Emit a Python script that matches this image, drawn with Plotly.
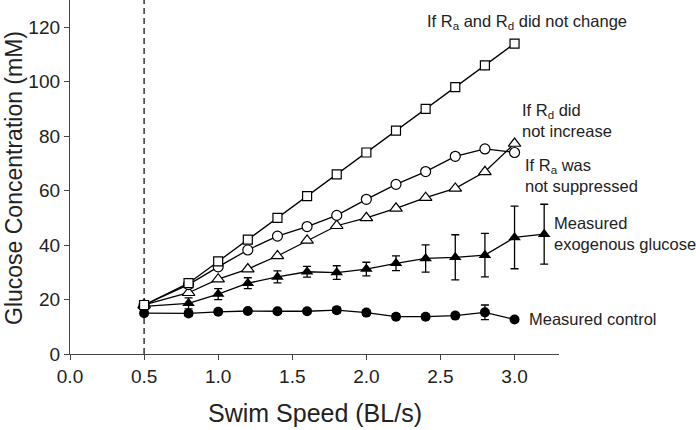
import plotly.graph_objects as go

speed = [0.5, 0.8, 1.0, 1.2, 1.4, 1.6, 1.8, 2.0, 2.2, 2.4, 2.6, 2.8, 3.0]
speed_exo = [0.5, 0.8, 1.0, 1.2, 1.4, 1.6, 1.8, 2.0, 2.2, 2.4, 2.6, 2.8, 3.0, 3.2]

no_change = [18, 26, 34, 42, 50, 58, 66, 74, 82, 90, 98, 106, 114]
rd_not_inc = [18, 25.5, 32, 38.2, 43.3, 46.8, 50.9, 56.8, 62.3, 67, 72.6, 75.3, 74]
ra_not_sup = [18, 22.5, 27.5, 31.2, 36, 41.7, 47.1, 50, 53.5, 57.4, 60.8, 66.9, 77.3]
exo = [17.5, 18.6, 22, 26, 28.3, 30.2, 29.9, 31.2, 33.3, 35.1, 35.5, 36.3, 42.8, 44]
exo_err = [1.2, 2, 2, 2, 2.2, 2, 2.5, 2.5, 2.7, 5, 8.3, 8, 11.5, 11]
control = [15, 14.9, 15.5, 15.8, 15.7, 15.7, 16.1, 15.2, 13.7, 13.7, 14.1, 15.3, 12.7]
control_err = [0.8, 1, 0.8, 0.8, 0.8, 0.8, 1, 1, 1, 0.8, 0.8, 2.7, 0]

x_ticks = [0.0, 0.5, 1.0, 1.5, 2.0, 2.5, 3.0]
x_tick_labels = ["0.0", "0.5", "1.0", "1.5", "2.0", "2.5", "3.0"]
y_ticks = [0, 20, 40, 60, 80, 100, 120]

FONT = "Liberation Sans, Arial, sans-serif"
INK = "#222222"
AX = "#444444"

# plot area in pixels
L, R, T, B = 70, 559, 0, 354
W, H = R - L, B - T

fig = go.Figure()

line = dict(color="black", width=1.3)

fig.add_trace(go.Scatter(x=speed, y=control, mode="lines+markers", line=line,
                         marker=dict(symbol="circle", size=10, color="black"),
                         error_y=dict(type="data", array=control_err, color="black", thickness=1.3, width=4),
                         showlegend=False))
fig.add_trace(go.Scatter(x=speed_exo, y=exo, mode="lines+markers", line=line,
                         marker=dict(symbol="triangle-up", size=11, color="black"),
                         error_y=dict(type="data", array=exo_err, color="black", thickness=1.3, width=4),
                         showlegend=False))
fig.add_trace(go.Scatter(x=speed, y=ra_not_sup, mode="lines+markers", line=line,
                         marker=dict(symbol="triangle-up", size=11, color="white",
                                     line=dict(color="black", width=1.2)),
                         showlegend=False))
fig.add_trace(go.Scatter(x=speed, y=rd_not_inc, mode="lines+markers", line=line,
                         marker=dict(symbol="circle", size=10, color="white",
                                     line=dict(color="black", width=1.2)),
                         showlegend=False))
fig.add_trace(go.Scatter(x=speed, y=no_change, mode="lines+markers", line=line,
                         marker=dict(symbol="square", size=9, color="white",
                                     line=dict(color="black", width=1.2)),
                         showlegend=False))

fig.add_shape(type="line", x0=0.5, x1=0.5, y0=0, y1=130, xref="x", yref="y",
              line=dict(color="black", width=1.2, dash="6px,4px"), layer="below")


def px_to_paper(px, py):
    return (px - L) / W, (B - py) / H


ann_font = dict(family=FONT, size=16.5, color=INK)
annotations = [
    dict(x=425, y=22, text="If R<sub>a</sub> and R<sub>d</sub> did not change"),
    dict(x=520, y=120, text="If R<sub>d</sub> did<br>not increase"),
    dict(x=523, y=175, text="If R<sub>a</sub> was<br>not suppressed"),
    dict(x=552, y=233, text="Measured<br>exogenous glucose"),
    dict(x=527, y=319, text="Measured control"),
]
for a in annotations:
    ax_, ay_ = px_to_paper(a["x"], a["y"])
    fig.add_annotation(x=ax_, y=ay_, xref="paper", yref="paper",
                       text=a["text"], showarrow=False, xanchor="left", yanchor="middle",
                       align="left", font=ann_font)

# axis titles
tx, ty = px_to_paper(315, 413)
fig.add_annotation(x=tx, y=ty, xref="paper", yref="paper",
                   text="Swim Speed (BL/s)", showarrow=False, xanchor="center", yanchor="middle",
                   font=dict(size=25, family=FONT, color=INK))
tx, ty = px_to_paper(14, 178)
fig.add_annotation(x=tx, y=ty, xref="paper", yref="paper",
                   text="Glucose Concentration (mM)", showarrow=False, textangle=-90,
                   xanchor="center", yanchor="middle",
                   font=dict(size=23, family=FONT, color=INK))

fig.update_layout(
    width=696, height=430,
    margin=dict(l=L, r=696 - R, t=T, b=430 - B, autoexpand=False),
    paper_bgcolor="white", plot_bgcolor="white",
    font=dict(family=FONT, color=INK),
    xaxis=dict(range=[0, 3.3], tickvals=x_ticks, ticktext=x_tick_labels, automargin=False,
               showgrid=False, zeroline=False, showline=True, linecolor=AX, linewidth=1.3,
               ticks="outside", ticklen=5, tickcolor=AX, tickwidth=1.3,
               tickfont=dict(size=19, family=FONT, color=INK)),
    yaxis=dict(range=[0, 130], tickvals=y_ticks, automargin=False,
               showgrid=False, zeroline=False, showline=True, linecolor=AX, linewidth=1.3,
               ticks="outside", ticklen=5, tickcolor=AX, tickwidth=1.3,
               tickfont=dict(size=19, family=FONT, color=INK)),
)

fig.write_html("out.html", config={"displayModeBar": False},
               post_script="document.body.style.margin='0';")
